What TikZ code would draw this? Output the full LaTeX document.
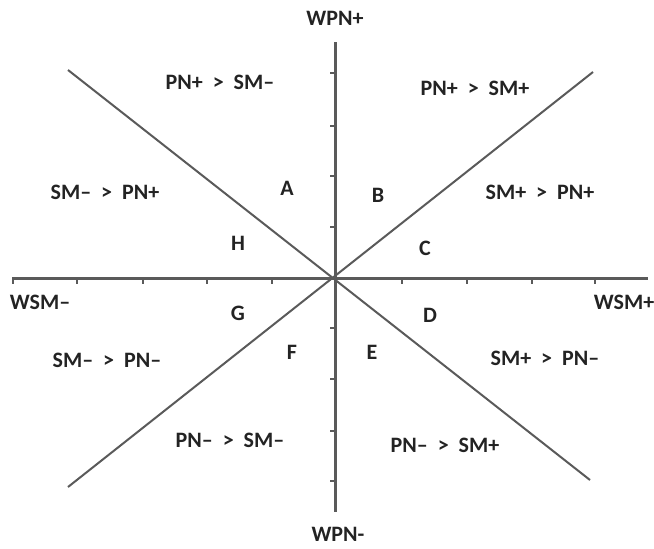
\documentclass[tikz,border=0pt]{standalone}
\usepackage{fontspec}
\setmainfont{Carlito}
\usepackage{tikz}
\usetikzlibrary{positioning, calc}
\definecolor{AxGray}{RGB}{90,90,90}
\definecolor{TxGray}{RGB}{35,35,35}

\begin{document}
\begin{tikzpicture}[x=1pt, y=-1pt,
          lbl/.style={font=\fontsize{22}{25}\selectfont\bfseries, text=TxGray,
                      inner sep=1pt},
          axis/.style={line width=3pt, AxGray},
          diag/.style={line width=2pt, AxGray},
          tick/.style={line width=2pt, AxGray}
        ]
        \useasboundingbox (0,0) rectangle (654,549);

        % axes
        \coordinate (o) at (335,278);
        \coordinate (top) at (335,42);
        \coordinate (bot) at (335,512);
        \coordinate (lft) at (12,278);
        \coordinate (rgt) at (648,278);
        \draw[axis] (top) -- (bot);
        \draw[axis] (lft) -- (rgt);

        % diagonals
        \coordinate (ul) at (68,70);
        \coordinate (lr) at (590,480);
        \coordinate (ur) at (593,72);
        \coordinate (ll) at (68,487);
        \draw[diag] (ul) -- (lr);
        \draw[diag] (ur) -- (ll);

        % ticks
        \foreach \y in {73,126,176,227,328,379,431,481} {
          \draw[tick] (330,\y) -- (335,\y);
        }
        \foreach \x in {13,77,143,207,272,402,467,532,595} {
          \draw[tick] (\x,278) -- (\x,284);
        }

        % axis labels
        \node[lbl] (wpnp) at (335,18) {WPN+};
        \node[lbl] (wpnm) at (338,534) {WPN-};
        \node[lbl] (wsmm) at (40,302) {WSM–};
        \node[lbl] (wsmp) at (624,302) {WSM+};

        % region texts
        \node[lbl] (ra) at (220,82)  {PN+ \ > \ SM–};
        \node[lbl] (rb) at (475,88)  {PN+ \ > \ SM+};
        \node[lbl] (rh) at (105,192) {SM– \ > \ PN+};
        \node[lbl] (rc) at (540,192) {SM+ \ > \ PN+};
        \node[lbl] (rg) at (107,360) {SM– \ > \ PN–};
        \node[lbl] (rd) at (545,358) {SM+ \ > \ PN–};
        \node[lbl] (rf) at (230,440) {PN– \ > \ SM–};
        \node[lbl] (re) at (445,445) {PN– \ > \ SM+};

        % octant letters
        \node[lbl] (a) at (287,188) {A};
        \node[lbl] (b) at (378,195) {B};
        \node[lbl] (c) at (425,248) {C};
        \node[lbl] (d) at (430,315) {D};
        \node[lbl] (e) at (372,352) {E};
        \node[lbl] (f) at (292,352) {F};
        \node[lbl] (g) at (238,313) {G};
        \node[lbl] (h) at (238,243) {H};
      \end{tikzpicture}
\end{document}
